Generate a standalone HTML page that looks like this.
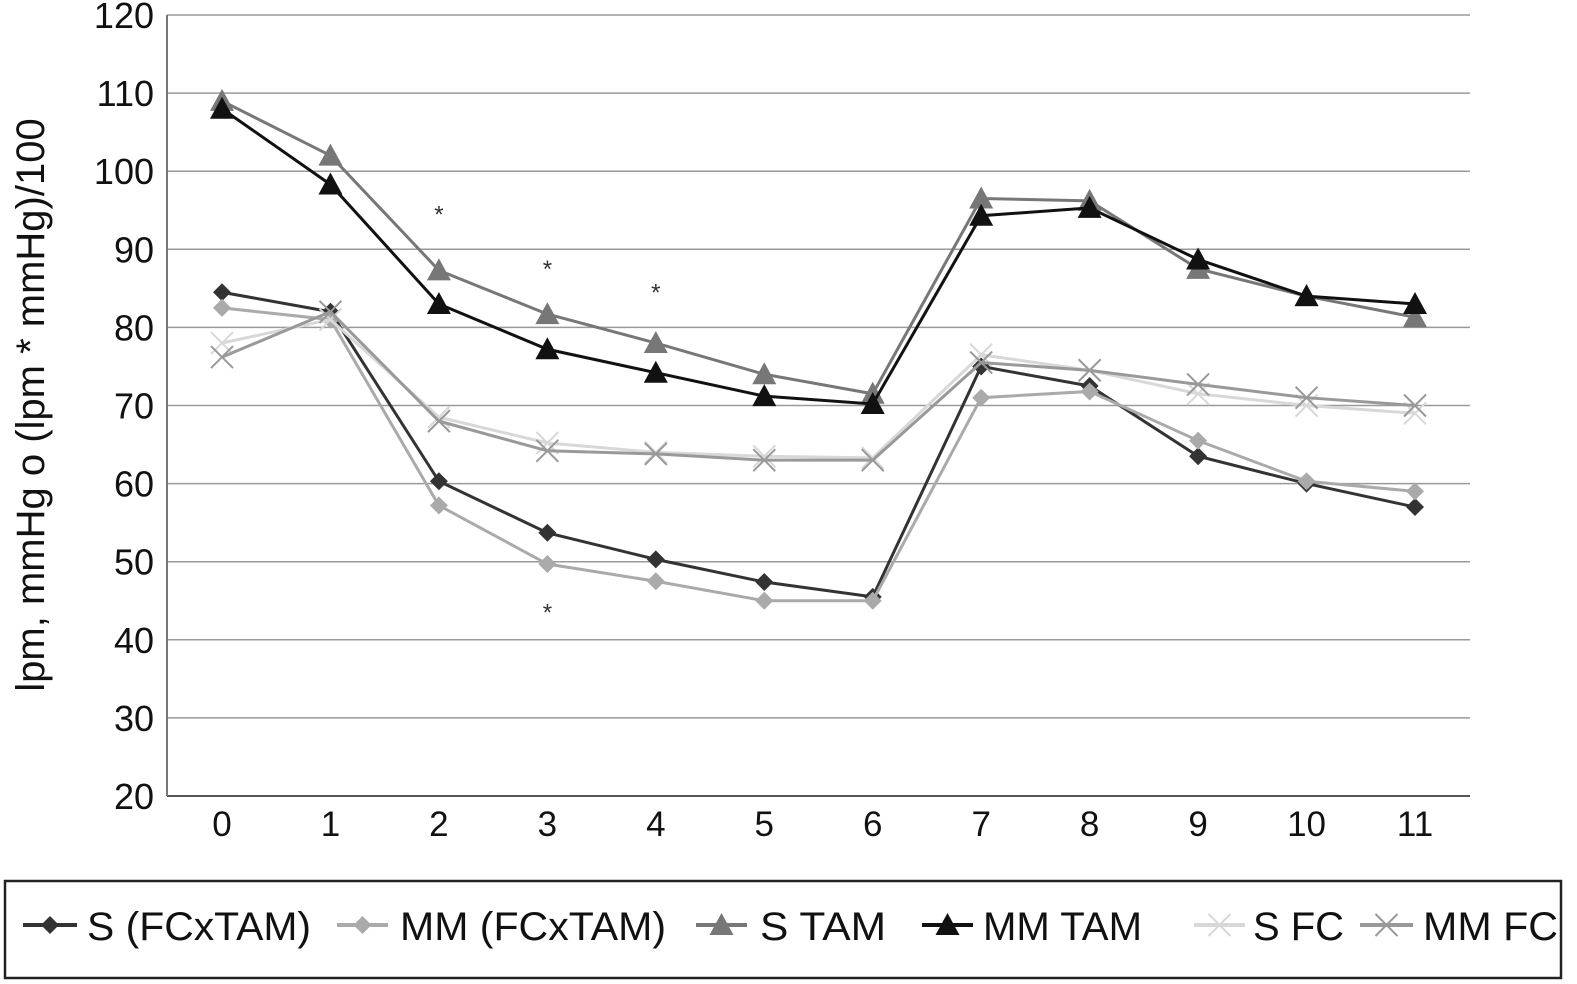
<!DOCTYPE html>
<html><head><meta charset="utf-8"><style>
body{margin:0;background:#fff;}
svg{display:block;font-family:"Liberation Sans",Arial,sans-serif;}
</style></head><body>
<svg id="chart" width="1577" height="984" viewBox="0 0 1577 984">
<g id="grid"></g><g id="axes"></g><g id="series"></g><g id="notes"></g><g id="legend"></g>
</svg>
<script>
const categories=[0,1,2,3,4,5,6,7,8,9,10,11];
const yTicks=[20,30,40,50,60,70,80,90,100,110,120];
const sFcxTam=[84.5,82,60.3,53.7,50.3,47.4,45.5,75,72.5,63.5,60,57];
const mmFcxTam=[82.5,81,57.2,49.7,47.5,45,45,71,71.8,65.5,60.3,59];
const sTam=[109,102,87.3,81.7,78,74,71.5,96.5,96.2,87.5,84,81.3];
const mmTam=[108,98.3,83,77.2,74.2,71.2,70.2,94.3,95.3,88.7,84,83];
const sFc=[78,81,68.5,65.2,64,63.5,63.3,76.5,74.5,71.5,70,69];
const mmFc=[76.2,82,68,64.2,63.8,63,63,75.5,74.5,72.7,71,70];
const seriesNames=["S (FCxTAM)","MM (FCxTAM)","S TAM","MM TAM","S FC","MM FC"];
const asteriskX=[2,3,4,3];
const asteriskY=[95,88,85,44];

const NS="http://www.w3.org/2000/svg";
const L=167,R=1470,T=15,B=796;
const xs=i=>222+i*(1415-222)/11;
const ys=v=>B-(v-20)*(B-T)/100;
function mk(tag,at,parent){const e=document.createElementNS(NS,tag);for(const k in at)e.setAttribute(k,at[k]);parent.appendChild(e);return e;}
const grid=document.getElementById('grid'),axes=document.getElementById('axes'),ser=document.getElementById('series'),notes=document.getElementById('notes'),leg=document.getElementById('legend');

yTicks.forEach(t=>{
 const y=ys(t);
 const gl=mk('line',{x1:L,x2:R,y1:y,y2:y,stroke:t===20?'#555':'#9a9a9a','stroke-width':t===20?2:1.5},grid);
 
 
 const tx=mk('text',{x:154,y:y+13,'text-anchor':'end','font-size':36,fill:'#111'},axes);
 tx.textContent=t;
 
 
});
const ya=mk('line',{x1:L,x2:L,y1:T,y2:B,stroke:'#777','stroke-width':2},axes);


categories.forEach((c,i)=>{
 const tx=mk('text',{x:xs(i),y:836,'text-anchor':'middle','font-size':35,fill:'#111'},axes);
 tx.textContent=c;
 
 
});
const yt=mk('text',{x:0,y:0,transform:'translate(44,405) rotate(-90)','text-anchor':'middle','font-size':40,fill:'#111'},axes);
yt.textContent='lpm, mmHg o (lpm * mmHg)/100';



const styles=[
 {data:sFcxTam,color:'#333',m:'diamond',w:3},
 {data:mmFcxTam,color:'#aaa',m:'diamond',w:3},
 {data:sTam,color:'#777',m:'triangle',w:3},
 {data:mmTam,color:'#111',m:'triangle',w:3},
 {data:sFc,color:'#d8d8d8',m:'x',w:3},
 {data:mmFc,color:'#999',m:'x',w:3}
];
function marker(type,x,y,color,parent){
 if(type==='diamond')return mk('path',{d:`M${x} ${y-9}L${x+9} ${y}L${x} ${y+9}L${x-9} ${y}Z`,fill:color},parent);
 if(type==='triangle')return mk('path',{d:`M${x} ${y-12}L${x+12} ${y+10}L${x-12} ${y+10}Z`,fill:color},parent);
 return mk('path',{d:`M${x-11} ${y-11}L${x+11} ${y+11}M${x+11} ${y-11}L${x-11} ${y+11}`,stroke:color,'stroke-width':2,fill:'none'},parent);
}
styles.forEach((s,k)=>{
 const g=mk('g',{},ser);
 
 
 const p=mk('polyline',{points:s.data.map((v,i)=>xs(i)+','+ys(v)).join(' '),fill:'none',stroke:s.color,'stroke-width':s.w},g);
 
 
 s.data.forEach((v,i)=>{
  const m=marker(s.m,xs(i),ys(v),s.color,g);
  
  
 });
});
asteriskX.forEach((c,i)=>{
 const t=mk('text',{x:xs(c),y:ys(asteriskY[i])+12,'text-anchor':'middle','font-size':24,fill:'#333'},notes);
 t.textContent='*';
 
 
});

const box=mk('rect',{x:5,y:881,width:1556,height:97,fill:'#fff',stroke:'#222','stroke-width':2.5},leg);


const legLine=[[23,77],[337,388],[696,747],[922,973],[1194,1245],[1360,1413]];
const legText=[[87,224],[400,266],[760,126],[983,159],[1253,91],[1423,135]];
styles.forEach((s,k)=>{
 const g=mk('g',{},leg);
 
 
 const y=925;
 mk('line',{x1:legLine[k][0],x2:legLine[k][1],y1:y,y2:y,stroke:s.color,'stroke-width':4},g);
 marker(s.m,(legLine[k][0]+legLine[k][1])/2,y,s.color,g);
 const t=mk('text',{x:legText[k][0],y:y+15,'font-size':40,fill:'#111',textLength:legText[k][1],lengthAdjust:'spacingAndGlyphs'},g);
 t.textContent=seriesNames[k];
});
</script>
</body></html>
